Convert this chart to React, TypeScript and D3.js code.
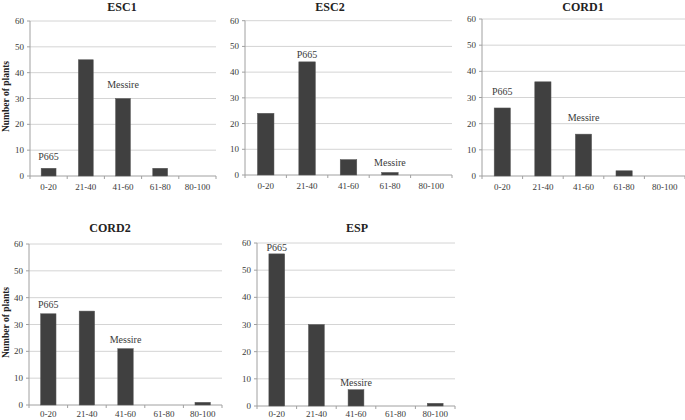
import React from "react";
import * as d3 from "d3";

const categories = ["0-20", "21-40", "41-60", "61-80", "80-100"];
const yTicks = [0, 10, 20, 30, 40, 50, 60];

const esc1Values = [3, 45, 30, 3, 0];
const esc2Values = [24, 44, 6, 1, 0];
const cord1Values = [26, 36, 16, 2, 0];
const cord2Values = [34, 35, 21, 0, 1];
const espValues = [56, 30, 6, 0, 1];

const panelTitles = ["ESC1", "ESC2", "CORD1", "CORD2", "ESP"];
// annotation: [category index, y value (data units, text centre)]
const p665Pos: [number, number][] = [[0, 7.4], [1, 46.8], [0, 32.1], [0, 37.3], [0, 58.2]];
const messirePos: [number, number][] = [[2, 35.2], [3, 4.7], [2, 22.5], [2, 24.2], [2, 8.5]];

const panelValues = [esc1Values, esc2Values, cord1Values, cord2Values, espValues];

// layout of each panel: plot left, right, top(60), bottom(0), title centre x, title y
const layouts = [
  { l: 30, r: 216, t: 21, b: 176, tx: 122, ty: 7, ylab: true, lo: 11 },
  { l: 245, r: 452, t: 20.7, b: 175, tx: 330, ty: 7, ylab: false, lo: 11 },
  { l: 482, r: 685, t: 19, b: 176, tx: 583, ty: 7, ylab: false, lo: 11 },
  { l: 29, r: 222, t: 244, b: 405, tx: 110, ty: 228, ylab: true, lo: 8.5 },
  { l: 257, r: 455, t: 243, b: 406, tx: 357, ty: 228, ylab: false, lo: 7.5 },
];

const font = "'Liberation Serif', 'Times New Roman', serif";
const textColor = "#3a3a3a";

function Panel({ idx }: { idx: number }) {
  const L = layouts[idx];
  const values = panelValues[idx];
  const x = d3.scaleBand<string>().domain(categories).range([L.l, L.r]).paddingInner(0.6).paddingOuter(0.3);
  const xc = d3.scaleBand<string>().domain(categories).range([L.l, L.r]);
  const y = d3.scaleLinear().domain([0, 60]).range([L.b, L.t]);
  const bounds = d3.range(categories.length + 1).map((i) => L.l + i * xc.step());
  const ann = [
    { text: "P665", pos: p665Pos[idx] },
    { text: "Messire", pos: messirePos[idx] },
  ];
  return (
    <g>
      {yTicks.map((t) => (
        <g key={t}>
          {t > 0 && <line x1={L.l} x2={L.r} y1={y(t)} y2={y(t)} stroke="#d4d4d4" strokeWidth={1} />}
          <line x1={L.l - 3} x2={L.l} y1={y(t)} y2={y(t)} stroke="#a0a0a0" strokeWidth={1} />
          <text x={L.l - 6} y={y(t)} dy="0.34em" textAnchor="end" fontSize={9} fontFamily={font} fill={textColor}>
            {t}
          </text>
        </g>
      ))}
      <line x1={L.l} x2={L.l} y1={L.t} y2={L.b} stroke="#a0a0a0" strokeWidth={1} />
      <line x1={L.l} x2={L.r} y1={L.b} y2={L.b} stroke="#a0a0a0" strokeWidth={1} />
      {bounds.map((bx, i) => (
        <line key={i} x1={bx} x2={bx} y1={L.b} y2={L.b + 3} stroke="#a0a0a0" strokeWidth={1} />
      ))}
      {categories.map((c, i) => (
        <rect
          key={c}
          x={x(c)!}
          y={y(values[i])}
          width={x.bandwidth()}
          height={L.b - y(values[i])}
          fill="#404040"
          stroke="#5a5a5a"
          strokeWidth={0.5}
        />
      ))}
      {categories.map((c) => (
        <text
          key={c}
          x={xc(c)! + xc.bandwidth() / 2}
          y={L.b + L.lo}
          dy="0.34em"
          textAnchor="middle"
          fontSize={9}
          fontFamily={font}
          fill={textColor}
        >
          {c}
        </text>
      ))}
      {ann.map((a) => (
        <text
          key={a.text}
          x={xc(categories[a.pos[0]])! + xc.bandwidth() / 2}
          y={y(a.pos[1])}
          dy="0.34em"
          textAnchor="middle"
          fontSize={10}
          fontFamily={font}
          fill={textColor}
        >
          {a.text}
        </text>
      ))}
      <text x={L.tx} y={L.ty} dy="0.36em" textAnchor="middle" fontSize={12} fontWeight="bold" fontFamily={font} fill="#222">
        {panelTitles[idx]}
      </text>
      {L.ylab && (
        <text
          transform={`translate(6,${(L.t + L.b) / 2 - 2}) rotate(-90)`}
          dy="0.34em"
          textAnchor="middle"
          fontSize={9.5}
          fontWeight="bold"
          fontFamily={font}
          fill="#222"
        >
          Number of plants
        </text>
      )}
    </g>
  );
}

export default function App() {
  return (
    <svg width={685} height={420} style={{ position: "absolute", left: 0, top: 0, background: "#fff" }}>
      <rect width={685} height={420} fill="#fff" />
      {panelTitles.map((_, i) => (
        <Panel key={i} idx={i} />
      ))}
    </svg>
  );
}
